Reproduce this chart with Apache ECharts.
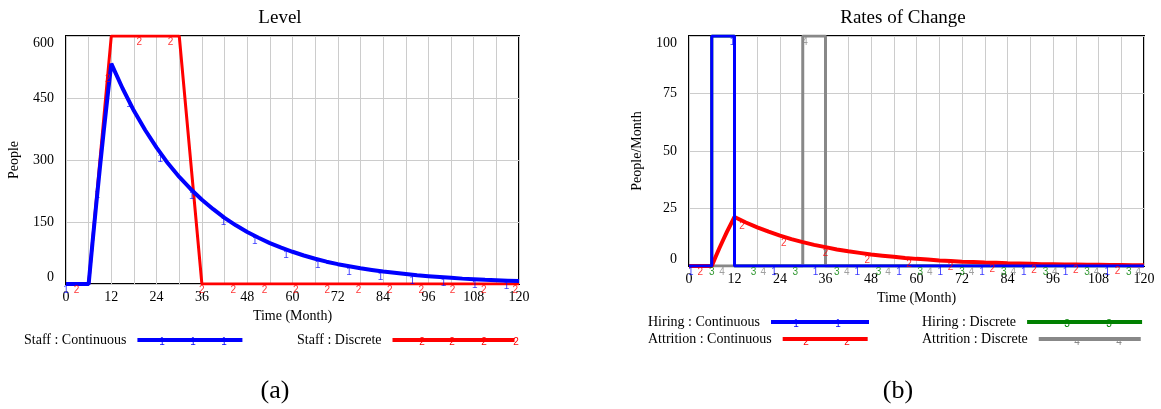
<!DOCTYPE html>
<html>
<head>
<meta charset="utf-8">
<script src="https://cdn.jsdelivr.net/npm/echarts@6/dist/echarts.min.js"></script>
<style>
  html, body { margin: 0; padding: 0; background: #fff; }
  #chart { width: 1161px; height: 409px; }
</style>
</head>
<body>
<div id="chart"></div>
<script>
// time axis (months) shared by the continuous runs
var months = [0, 6, 7, 8, 9, 10, 11, 12, 15, 18, 21, 24, 27, 30, 33, 36, 39, 42, 45, 48, 51, 54, 57, 60,
  63, 66, 69, 72, 75, 78, 81, 84, 87, 90, 93, 96, 99, 102, 105, 108, 111, 114, 117, 120];
var staffContinuous = [0, 0, 98, 192, 283, 370, 453, 533, 473, 419, 372, 330, 292, 259, 230, 204, 181, 160, 142, 126,
  112, 99, 88, 78, 69, 61, 54, 48, 43, 38, 34, 30, 27, 24, 21, 19, 17, 15, 13, 11.5, 10, 9, 8, 7];
var attritionContinuous = [0, 0, 3.9, 7.7, 11.3, 14.8, 18.1, 21.3, 18.9, 16.8, 14.9, 13.2, 11.7, 10.4, 9.2, 8.2, 7.2, 6.4, 5.7, 5.0,
  4.5, 4.0, 3.5, 3.1, 2.8, 2.4, 2.2, 1.9, 1.7, 1.5, 1.4, 1.2, 1.1, 1.0, 0.8, 0.8, 0.7, 0.6, 0.5, 0.5, 0.4, 0.4, 0.3, 0.3];

// discrete runs
var staffDiscreteMonths = [0, 6, 12, 30, 36, 120];
var staffDiscrete = [0, 0, 600, 600, 0, 0];
var hiringMonths = [0, 6, 12, 120];
var hiringContinuous = [0, 100, 0, 0];
var hiringDiscrete = [0, 100, 0, 0];
var attritionDiscreteMonths = [0, 30, 36, 120];
var attritionDiscrete = [0, 100, 0, 0];

// vensim line markers (the little 1/2/3/4 digits)
var staffContMarkMonths = [0, 8.3, 16.7, 25, 33.3, 41.7, 50, 58.3, 66.7, 75, 83.3, 91.7, 100, 108.3, 116.7];
var staffContMarkValues = [0, 230, 450, 317, 228, 165, 118, 84, 61, 43, 31, 22, 16, 11, 8];
var staffDiscMarkMonths = [2.8, 11.1, 19.4, 27.7, 36, 44.3, 52.6, 60.9, 69.2, 77.5, 85.8, 94.1, 102.4, 110.7, 119];
var staffDiscMarkValues = [0, 510, 600, 600, 0, 0, 0, 0, 0, 0, 0, 0, 0, 0, 0];
var hireContMarkMonths = [0.5, 11.5, 22.4, 33.4, 44.4, 55.4, 66.3, 77.3, 88.3, 99.3, 110.3];
var hireContMarkValues = [0, 100, 0, 0, 0, 0, 0, 0, 0, 0, 0];
var attrContMarkMonths = [3, 14, 25, 36, 47, 58, 69, 80, 91, 102, 113];
var attrContMarkValues = [0, 19.7, 12.7, 8.2, 5.3, 3.4, 2.2, 1.4, 0.9, 0.6, 0.4];
var hireDiscMarkMonths = [6, 17, 28, 39, 50, 61, 72, 83, 94, 105, 116];
var hireDiscMarkValues = [0, 0, 0, 0, 0, 0, 0, 0, 0, 0, 0];
var attrDiscMarkMonths = [8.7, 19.6, 30.6, 41.6, 52.5, 63.5, 74.5, 85.5, 96.5, 107.5, 118.5];
var attrDiscMarkValues = [0, 0, 100, 0, 0, 0, 0, 0, 0, 0, 0];

var SERIF = '"Liberation Serif", "DejaVu Serif", serif';
var SANS = '"Liberation Sans", Arial, sans-serif';
var BLUE = '#0000ff', RED = '#ff0000', GREEN = '#008000', GRAY = '#888888';

function pairs(xs, ys) {
  return xs.map(function(x, i) { return [x, ys[i]]; });
}

function markSeries(xi, yi, xs, ys, digit, color) {
  return {
    type: 'scatter', xAxisIndex: xi, yAxisIndex: yi, silent: true, z: 5,
    symbolSize: 2, itemStyle: { color: 'rgba(0,0,0,0)' },
    label: { show: true, position: 'bottom', distance: 0, formatter: digit, color: color,
      fontFamily: SANS, fontSize: 10 },
    data: pairs(xs, ys)
  };
}

function xAxisOf(gi) {
  return {
    gridIndex: gi, type: 'value', min: 0, max: 120, interval: 12,
    name: 'Time (Month)', nameLocation: 'middle', nameGap: 24,
    nameTextStyle: { fontFamily: SERIF, fontSize: 14, color: '#000' },
    axisLine: { show: false }, axisTick: { show: false },
    axisLabel: { margin: 6, fontFamily: SERIF, fontSize: 14, color: '#000' },
    splitLine: { show: true, lineStyle: { color: '#cccccc', width: 1 } },
    minorTick: { show: false, splitNumber: 2 },
    minorSplitLine: { show: true, lineStyle: { color: '#cccccc', width: 1 } }
  };
}

function yAxisOf(gi, max, step, name) {
  return {
    gridIndex: gi, type: 'value', min: 0, max: max, interval: step,
    name: name, nameLocation: 'middle', nameGap: 45,
    nameTextStyle: { fontFamily: SERIF, fontSize: 14, color: '#000' },
    axisLine: { show: false }, axisTick: { show: false },
    axisLabel: { margin: 12, fontFamily: SERIF, fontSize: 14, color: '#000',
      verticalAlignMinLabel: 'bottom', verticalAlignMaxLabel: 'top' },
    splitLine: { show: true, lineStyle: { color: '#cccccc', width: 1 } }
  };
}

function legendOf(name, left, top, width, height) {
  return {
    data: [name], left: left, top: top, padding: 0, align: 'right',
    icon: 'rect', itemWidth: width, itemHeight: height, selectedMode: false,
    textStyle: { fontFamily: SERIF, fontSize: 14, color: '#000', padding: [0, 6, 0, 0] }
  };
}

// small digits drawn on the legend swatches
function legendMarks(xs, y, digit, color) {
  return xs.map(function(x) {
    return { type: 'text', x: x, y: y, silent: true,
      style: { text: digit, fontFamily: SANS, fontSize: 10, fill: color, align: 'center', verticalAlign: 'top' } };
  });
}

var chart = echarts.init(document.getElementById('chart'), null, { renderer: 'canvas' });

var graphics = [
  { type: 'text', x: 275, y: 391, style: { text: '(a)', fontFamily: SERIF, fontSize: 26, fill: '#000', align: 'center', verticalAlign: 'middle' } },
  { type: 'text', x: 898, y: 391, style: { text: '(b)', fontFamily: SERIF, fontSize: 26, fill: '#000', align: 'center', verticalAlign: 'middle' } }
]
  .concat(legendMarks([162, 193, 224], 337, '1', BLUE))
  .concat(legendMarks([422, 452, 484, 516], 337, '2', RED))
  .concat(legendMarks([796, 838], 319, '1', BLUE))
  .concat(legendMarks([806, 847], 337, '2', RED))
  .concat(legendMarks([1067, 1109], 319, '3', GREEN))
  .concat(legendMarks([1077, 1119], 337, '4', GRAY));

var option = {
  animation: false,
  backgroundColor: '#fff',
  title: [
    { text: 'Level', left: 275, top: 4, textAlign: 'center',
      textStyle: { fontFamily: SERIF, fontSize: 19, fontWeight: 'normal', color: '#000' } },
    { text: 'Rates of Change', left: 898, top: 4, textAlign: 'center',
      textStyle: { fontFamily: SERIF, fontSize: 19, fontWeight: 'normal', color: '#000' } }
  ],
  grid: [
    { left: 66, top: 36, width: 453, height: 248, show: true, borderColor: '#000', borderWidth: 2 },
    { left: 689, top: 36, width: 455, height: 230, show: true, borderColor: '#000', borderWidth: 2 }
  ],
  xAxis: [xAxisOf(0), xAxisOf(1)],
  yAxis: [yAxisOf(0, 600, 150, 'People'), yAxisOf(1, 100, 25, 'People/Month')],
  legend: [
    legendOf('Staff : Continuous', 24, 333, 105, 4),
    legendOf('Staff : Discrete', 297, 333, 122, 4),
    legendOf('Hiring : Continuous', 648, 315, 98, 4),
    legendOf('Attrition : Continuous', 648, 332, 85, 4),
    legendOf('Hiring : Discrete', 922, 315, 115, 4),
    legendOf('Attrition : Discrete', 922, 332, 102, 4)
  ],
  graphic: graphics,
  series: [
    { name: 'Staff : Discrete', type: 'line', xAxisIndex: 0, yAxisIndex: 0, showSymbol: false, z: 2,
      color: RED, lineStyle: { width: 3, color: RED }, data: pairs(staffDiscreteMonths, staffDiscrete) },
    { name: 'Staff : Continuous', type: 'line', xAxisIndex: 0, yAxisIndex: 0, showSymbol: false, z: 3,
      color: BLUE, lineStyle: { width: 4, color: BLUE }, data: pairs(months, staffContinuous) },
    markSeries(0, 0, staffDiscMarkMonths, staffDiscMarkValues, '2', RED),
    markSeries(0, 0, staffContMarkMonths, staffContMarkValues, '1', BLUE),

    { name: 'Hiring : Discrete', type: 'line', xAxisIndex: 1, yAxisIndex: 1, showSymbol: false, step: 'end', z: 2,
      color: GREEN, lineStyle: { width: 3, color: GREEN }, data: pairs(hiringMonths, hiringDiscrete) },
    { name: 'Attrition : Discrete', type: 'line', xAxisIndex: 1, yAxisIndex: 1, showSymbol: false, step: 'end', z: 2,
      color: GRAY, lineStyle: { width: 3, color: GRAY }, data: pairs(attritionDiscreteMonths, attritionDiscrete) },
    { name: 'Attrition : Continuous', type: 'line', xAxisIndex: 1, yAxisIndex: 1, showSymbol: false, z: 3,
      color: RED, lineStyle: { width: 4, color: RED }, data: pairs(months, attritionContinuous) },
    { name: 'Hiring : Continuous', type: 'line', xAxisIndex: 1, yAxisIndex: 1, showSymbol: false, step: 'end', z: 4,
      color: BLUE, lineStyle: { width: 3, color: BLUE }, data: pairs(hiringMonths, hiringContinuous) },
    markSeries(1, 1, hireContMarkMonths, hireContMarkValues, '1', BLUE),
    markSeries(1, 1, attrContMarkMonths, attrContMarkValues, '2', RED),
    markSeries(1, 1, hireDiscMarkMonths, hireDiscMarkValues, '3', GREEN),
    markSeries(1, 1, attrDiscMarkMonths, attrDiscMarkValues, '4', GRAY)
  ]
};

chart.setOption(option);
</script>
</body>
</html>
